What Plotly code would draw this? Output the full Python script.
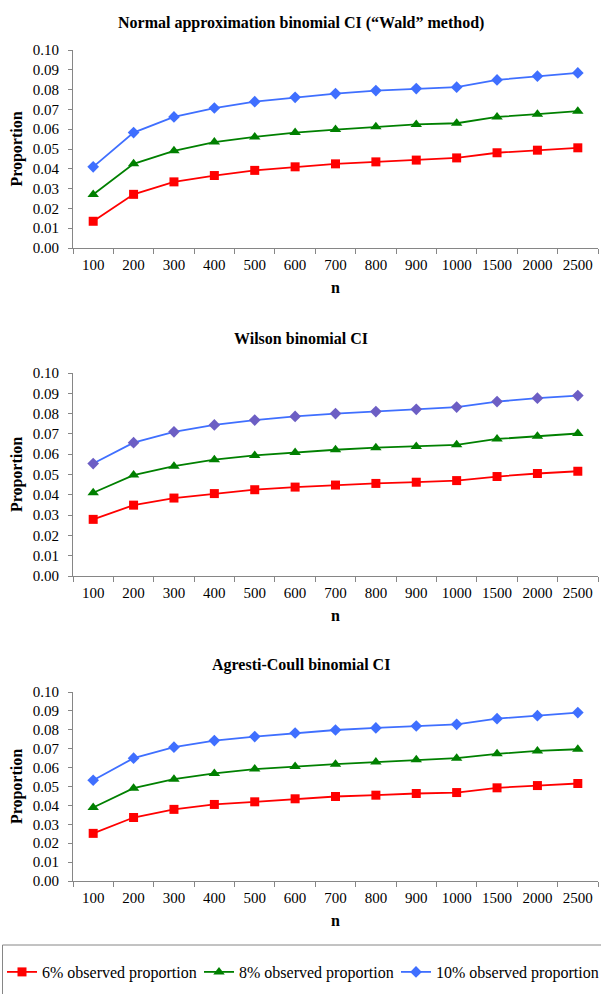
import plotly.graph_objects as go

n_labels = ["100", "200", "300", "400", "500", "600", "700", "800", "900", "1000", "1500", "2000", "2500"]

series_names = ["6% observed proportion", "8% observed proportion", "10% observed proportion"]

panel_titles = [
    "Normal approximation binomial CI (\u201cWald\u201d method)",
    "Wilson binomial CI",
    "Agresti-Coull binomial CI",
]

wald_6 = [0.0135, 0.0271, 0.0334, 0.0366, 0.0392, 0.0410, 0.0425, 0.0435, 0.0444, 0.0455, 0.0481, 0.0494, 0.0506]
wald_8 = [0.0270, 0.0425, 0.0491, 0.0535, 0.0561, 0.0583, 0.0598, 0.0612, 0.0624, 0.0630, 0.0662, 0.0676, 0.0691]
wald_10 = [0.0410, 0.0583, 0.0662, 0.0707, 0.0739, 0.0761, 0.0780, 0.0795, 0.0805, 0.0812, 0.0849, 0.0868, 0.0884]

wilson_6 = [0.0279, 0.0349, 0.0384, 0.0406, 0.0425, 0.0438, 0.0448, 0.0456, 0.0462, 0.0470, 0.0490, 0.0505, 0.0516]
wilson_8 = [0.0410, 0.0497, 0.0541, 0.0573, 0.0594, 0.0608, 0.0622, 0.0632, 0.0638, 0.0646, 0.0675, 0.0689, 0.0702]
wilson_10 = [0.0554, 0.0657, 0.0710, 0.0744, 0.0768, 0.0786, 0.0800, 0.0810, 0.0821, 0.0832, 0.0859, 0.0876, 0.0889]

ac_6 = [0.0252, 0.0336, 0.0379, 0.0405, 0.0419, 0.0435, 0.0447, 0.0454, 0.0463, 0.0468, 0.0493, 0.0505, 0.0516]
ac_8 = [0.0389, 0.0491, 0.0539, 0.0569, 0.0592, 0.0606, 0.0618, 0.0629, 0.0641, 0.0650, 0.0673, 0.0688, 0.0697]
ac_10 = [0.0533, 0.0650, 0.0708, 0.0743, 0.0764, 0.0783, 0.0799, 0.0810, 0.0820, 0.0829, 0.0859, 0.0875, 0.0891]

y_ticks = [0.00, 0.01, 0.02, 0.03, 0.04, 0.05, 0.06, 0.07, 0.08, 0.09, 0.10]

panels = [
    (wald_6, wald_8, wald_10),
    (wilson_6, wilson_8, wilson_10),
    (ac_6, ac_8, ac_10),
]

RED = "#ff0000"
GREEN = "#008000"
BLUE = "#3f6fff"
PURPLE = "#6c5ec4"
AXIS = "#868686"
FONT = "Liberation Serif"

W, H = 601, 994
# plot areas in pixels (top, bottom)
areas = [(50, 248), (373, 576), (692, 881)]
title_y = [23, 339, 665]
x_left, x_right = 73, 598

fig = go.Figure()

for i, (s6, s8, s10) in enumerate(panels):
    ax = "" if i == 0 else str(i + 1)
    blue_marker = PURPLE if i == 1 else BLUE
    fig.add_trace(go.Scatter(
        x=n_labels, y=s6, name=series_names[0], mode="lines+markers",
        line=dict(color=RED, width=1.8),
        marker=dict(symbol="square", size=9, color=RED),
        xaxis="x" + ax, yaxis="y" + ax, showlegend=(i == 0), legendrank=1,
    ))
    fig.add_trace(go.Scatter(
        x=n_labels, y=s8, name=series_names[1], mode="lines+markers",
        line=dict(color=GREEN, width=1.8),
        marker=dict(symbol="triangle-up", size=10, color=GREEN),
        xaxis="x" + ax, yaxis="y" + ax, showlegend=(i == 0), legendrank=2,
    ))
    fig.add_trace(go.Scatter(
        x=n_labels, y=s10, name=series_names[2], mode="lines+markers",
        line=dict(color=BLUE, width=1.8),
        marker=dict(symbol="diamond", size=9, color=blue_marker),
        xaxis="x" + ax, yaxis="y" + ax, showlegend=(i == 0), legendrank=3,
        legendwidth=162,
    ))

    top, bottom = areas[i]
    xa = dict(
        domain=[x_left / W, x_right / W],
        type="category",
        categoryorder="array", categoryarray=n_labels,
        range=[-0.5, len(n_labels) - 0.5],
        showline=True, linecolor=AXIS, linewidth=1,
        ticks="outside", tickson="boundaries", ticklen=5, tickcolor=AXIS,
        showgrid=False, zeroline=False,
        tickfont=dict(family=FONT, size=15, color="#000"),
        ticklabelstandoff=3,
        ticklabeloverflow="allow",
        title=dict(text="<b>n</b>", font=dict(family=FONT, size=16, color="#000"), standoff=9),
        anchor="y" + ax,
        automargin=False,
        fixedrange=True,
    )
    ya = dict(
        domain=[1 - bottom / H, 1 - top / H],
        range=[0, 0.10],
        tickvals=y_ticks,
        tickformat=".2f",
        showline=True, linecolor=AXIS, linewidth=1,
        ticks="outside", ticklen=4, tickcolor=AXIS,
        showgrid=False, zeroline=False,
        tickfont=dict(family=FONT, size=15, color="#000"),
        ticklabelstandoff=6,
        title=dict(text="<b>Proportion</b>", font=dict(family=FONT, size=16, color="#000"), standoff=6),
        anchor="x" + ax,
        automargin=False,
        fixedrange=True,
    )
    fig.update_layout(**{"xaxis" + ax: xa, "yaxis" + ax: ya})

    fig.add_annotation(
        text="<b>" + panel_titles[i] + "</b>",
        xref="paper", yref="paper", x=301 / W, y=1 - title_y[i] / H,
        xanchor="center", yanchor="middle", showarrow=False,
        font=dict(family=FONT, size=16, color="#000"),
    )

# legend frame (extends past the right and bottom edge like the reference)
fig.add_shape(
    type="rect", xref="paper", yref="paper",
    x0=2.5 / W, x1=1.02, y0=-0.02, y1=1 - 945 / H,
    line=dict(color=AXIS, width=1), fillcolor="rgba(0,0,0,0)",
)

fig.update_layout(
    width=W, height=H,
    margin=dict(l=0, r=0, t=0, b=0, autoexpand=False),
    paper_bgcolor="white", plot_bgcolor="white",
    font=dict(family=FONT, size=15, color="#000"),
    legend=dict(
        orientation="h", x=2 / W, y=1 - 972 / H, xanchor="left", yanchor="middle",
        font=dict(family=FONT, size=16, color="#000"),
        bgcolor="rgba(0,0,0,0)", borderwidth=0,
        itemwidth=30, tracegroupgap=0,
        entrywidth=152, entrywidthmode="pixels",
    ),
)

fig.write_html(
    "out.html",
    config={"displayModeBar": False},
    post_script="document.body.style.margin='0';document.body.style.overflow='hidden';",
)
